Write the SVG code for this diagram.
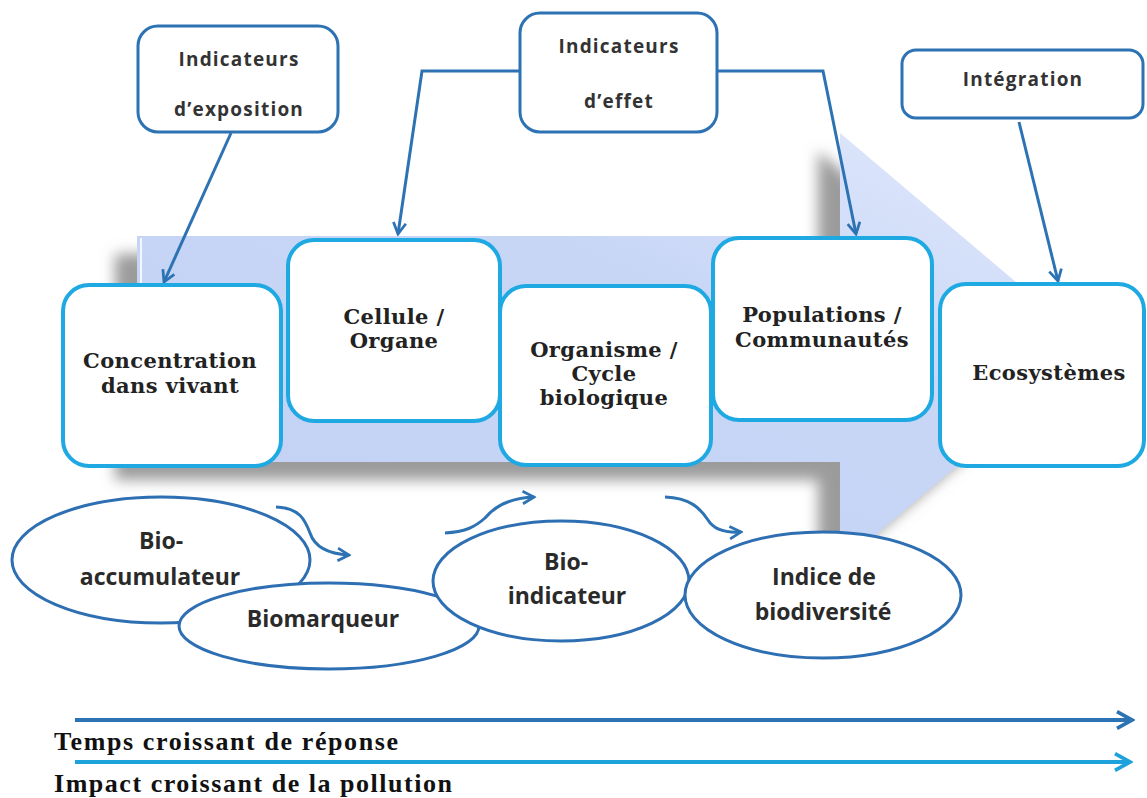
<svg xmlns="http://www.w3.org/2000/svg" width="1147" height="798" viewBox="0 0 1147 798">
<style>
.box{fill:#fff;stroke:#1fa9e3;stroke-width:4}
.top{fill:#fff;stroke:#2d73b4;stroke-width:3}
.ell{fill:#fff;stroke:#2d6fb2;stroke-width:3}
.con{fill:none;stroke:#2d73b4;stroke-width:3}
.t1{font-family:"Open Sans","Liberation Sans",sans-serif;font-weight:bold;font-size:19px;fill:#333;text-anchor:middle;letter-spacing:1.2px}
.t2{font-family:"DejaVu Serif","Liberation Serif",serif;font-weight:bold;font-size:21px;fill:#222;text-anchor:middle;letter-spacing:0.4px}
.t3{font-family:"Open Sans","Liberation Sans",sans-serif;font-weight:bold;font-size:23px;fill:#2a2a2a;text-anchor:middle}
.t4{font-family:"Liberation Serif","Times New Roman",serif;font-weight:bold;font-size:26px;fill:#111}
</style>
<defs>
<linearGradient id="g" x1="0" y1="1" x2="1" y2="0">
<stop offset="0" stop-color="#c2d1f4"/>
<stop offset="0.6" stop-color="#c8d6f6"/>
<stop offset="1" stop-color="#e3eafc"/>
</linearGradient>
<filter id="sh" x="-10%" y="-10%" width="120%" height="130%">
<feGaussianBlur in="SourceAlpha" stdDeviation="7"/>
<feOffset dx="-22" dy="18" result="b"/>
<feFlood flood-color="#8a8a8a" flood-opacity="0.85"/>
<feComposite in2="b" operator="in"/>
<feMerge><feMergeNode/><feMergeNode in="SourceGraphic"/></feMerge>
</filter>
<marker id="a1" viewBox="0 0 12 12" refX="10" refY="6" markerWidth="5" markerHeight="5" orient="auto" markerUnits="strokeWidth">
<path d="M1,1 L10,6 L1,11" fill="none" stroke="#2d73b4" stroke-width="2.2"/>
</marker>
<marker id="a2" viewBox="0 0 12 12" refX="10" refY="6" markerWidth="5" markerHeight="5" orient="auto" markerUnits="strokeWidth">
<path d="M1,1 L10,6 L1,11" fill="none" stroke="#1ea2dc" stroke-width="2.2"/>
</marker>
</defs>
<rect width="1147" height="798" fill="#fff"/>
<g id="bigarrow">
<polygon points="137,236 840,236 840,133 1095,349 840,565 840,462 137,462" fill="url(#g)" filter="url(#sh)"/>
<line x1="141" y1="238" x2="141" y2="290" stroke="#fff" stroke-width="2" opacity="0.8"/>
</g>
<g id="connectors">
<line class="con" x1="231" y1="133" x2="164" y2="282" marker-end="url(#a1)"/>
<polyline class="con" points="520,71 422,71 398,234" marker-end="url(#a1)"/>
<polyline class="con" points="717,71 823,71 856,234" marker-end="url(#a1)"/>
<line class="con" x1="1019" y1="122" x2="1058" y2="281" marker-end="url(#a1)"/>
<path class="con" d="M276,507 C300,508 305,520 310,533 C315,548 330,554 349,555" marker-end="url(#a1)"/>
<path class="con" d="M445,533 C465,532 475,527 485,518 C495,506 510,498 534,497" marker-end="url(#a1)"/>
<path class="con" d="M665,497 C690,498 700,508 708,520 C714,530 725,533 741,532" marker-end="url(#a1)"/>
<line x1="75" y1="720" x2="1132" y2="720" stroke="#2d73b4" stroke-width="4" marker-end="url(#a1)"/>
<line x1="75" y1="762" x2="1130" y2="762" stroke="#1ea2dc" stroke-width="4" marker-end="url(#a2)"/>
</g>
<g id="n-expo">
<rect class="top" x="138" y="26" width="200" height="106" rx="20"/>
<text class="t1" x="239" y="66">Indicateurs</text>
<text class="t1" x="239" y="116">d’exposition</text>
</g>
<g id="n-effet">
<rect class="top" x="520" y="13" width="197" height="119" rx="20"/>
<text class="t1" x="619" y="53">Indicateurs</text>
<text class="t1" x="619" y="108">d’effet</text>
</g>
<g id="n-integ">
<rect class="top" x="902" y="50" width="241" height="68" rx="14"/>
<text class="t1" x="1023" y="86">Intégration</text>
</g>
<g id="n-conc">
<rect class="box" x="63" y="285" width="218" height="181" rx="26"/>
<text class="t2" x="170" y="368">Concentration</text>
<text class="t2" x="170" y="393">dans vivant</text>
</g>
<g id="n-cell">
<rect class="box" x="288" y="240" width="212" height="181" rx="26"/>
<text class="t2" x="394" y="324">Cellule /</text>
<text class="t2" x="394" y="348">Organe</text>
</g>
<g id="n-org">
<rect class="box" x="500" y="286" width="211" height="179" rx="26"/>
<text class="t2" x="604" y="357">Organisme /</text>
<text class="t2" x="604" y="381">Cycle</text>
<text class="t2" x="604" y="405">biologique</text>
</g>
<g id="n-pop">
<rect class="box" x="713" y="238" width="219" height="182" rx="26"/>
<text class="t2" x="822" y="322">Populations /</text>
<text class="t2" x="822" y="347">Communautés</text>
</g>
<g id="n-eco">
<rect class="box" x="940" y="284" width="204" height="182" rx="26"/>
<text class="t2" x="1049" y="380">Ecosystèmes</text>
</g>
<g id="n-bioacc">
<ellipse class="ell" cx="161" cy="560" rx="149" ry="63"/>
<text class="t3" x="161" y="549">Bio-</text>
<text class="t3" x="160" y="585">accumulateur</text>
</g>
<g id="n-biomarq">
<ellipse class="ell" cx="329" cy="626" rx="150" ry="43"/>
<text class="t3" x="323" y="627">Biomarqueur</text>
</g>
<g id="n-bioind">
<ellipse class="ell" cx="561" cy="581" rx="128" ry="60"/>
<text class="t3" x="566" y="570">Bio-</text>
<text class="t3" x="567" y="604">indicateur</text>
</g>
<g id="n-indice">
<ellipse class="ell" cx="823" cy="595" rx="138" ry="63"/>
<text class="t3" x="824" y="585">Indice  de</text>
<text class="t3" x="823" y="620">biodiversité</text>
</g>
<g id="labels">
<text class="t4" x="54" y="750" textLength="344" lengthAdjust="spacing">Temps croissant de réponse</text>
<text class="t4" x="54" y="792" textLength="398" lengthAdjust="spacing">Impact croissant de la pollution</text>
</g>
</svg>
